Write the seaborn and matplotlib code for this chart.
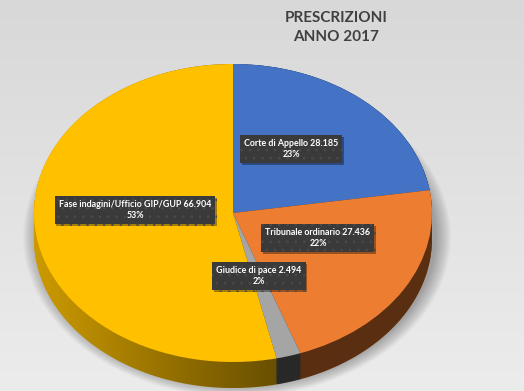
import numpy as np
import matplotlib
matplotlib.use("Agg")
import matplotlib.pyplot as plt
from matplotlib.patches import Ellipse, Polygon
from matplotlib.colors import LinearSegmentedColormap
import matplotlib.patheffects as pe
import seaborn as sns

sns.set_theme(style="white")
plt.rcParams['font.family'] = ['Lato', 'DejaVu Sans']
plt.rcParams['hatch.linewidth'] = 0.6

# ---- data ----
categories = ["Corte di Appello", "Tribunale ordinario", "Giudice di pace",
              "Fase indagini/Ufficio GIP/GUP"]
value_labels = ["28.185", "27.436", "2.494", "66.904"]
values = [28.185, 27.436, 2.494, 66.904]
percent_labels = ["23%", "22%", "2%", "53%"]
title_text = "PRESCRIZIONI\nANNO 2017"

top_colors = ["#4472C4", "#ED7D31", "#A5A5A5", "#FFC000"]
side_colors = ["#2E5290", "#B45F22", "#505050", "#CC9A00"]

W, H = 524, 391
fig = plt.figure(figsize=(W / 100, H / 100), dpi=100)
ax = fig.add_axes([0, 0, 1, 1])

# pixel -> data mapping: x = (px-cx)/rx ; y = (cy-py)/ry
cx, cy, rx, ry = 233.0, 213.0, 199.0, 149.0
xlim = (-cx / rx, (W - cx) / rx)
ylim = ((cy - H) / ry, cy / ry)
depth = 26.0 / ry

# background gradient
grad = np.linspace(0, 1, 256).reshape(-1, 1)
bgcmap = LinearSegmentedColormap.from_list("bg", ["#ececec", "#d8d8d8"])
ax.imshow(grad, cmap=bgcmap, aspect="auto",
          extent=(xlim[0], xlim[1], ylim[1], ylim[0]), zorder=-10)

# soft shadow
for i in range(16):
    s = 1.0 + 0.005 * i
    ax.add_patch(Ellipse((0.02, -0.16), 2 * s, 2 * s,
                         facecolor="black", edgecolor="none", alpha=0.02,
                         zorder=-5))

# side (extruded) layers
for k in np.linspace(depth, 0.0, 32):
    ax.pie(values, colors=side_colors, startangle=90, counterclock=False,
           center=(0, -k), radius=1.0, wedgeprops=dict(linewidth=0))

# shading on the side
t = np.linspace(0, np.pi, 200)
upper = np.column_stack([np.cos(t), np.sin(t)])
lower = np.column_stack([np.cos(t + np.pi), np.sin(t + np.pi) - depth])
side_poly = Polygon(np.vstack([upper, lower]), closed=True,
                    transform=ax.transData, facecolor="none", edgecolor="none")
ax.add_patch(side_poly)
xs = np.linspace(-1, 1, 300)
alpha_row = np.clip((xs + 1.0) / 1.25, 0, 1) * 0.5
shade = np.zeros((2, 300, 4))
shade[..., 3] = alpha_row
im = ax.imshow(shade, extent=(-1, 1, -1 - depth, 1), aspect="auto", zorder=2)
im.set_clip_path(side_poly)

# top face
wedges, _ = ax.pie(values, colors=top_colors, startangle=90, counterclock=False,
                   center=(0, 0), radius=1.0, wedgeprops=dict(linewidth=0))
for w in wedges:
    w.set_zorder(3)

ax.set_aspect("auto")
ax.set_xlim(*xlim)
ax.set_ylim(*ylim)
ax.axis("off")

# labels
label_px = [(291, 149), (318, 238), (259, 276), (135, 210)]
for cat, vl, pl, (px, py) in zip(categories, value_labels, percent_labels, label_px):
    x = (px - cx) / rx
    y = (cy - py) / ry
    txt = ax.text(x, y, f"{cat} {vl}\n{pl}", ha="center", va="center",
                  multialignment="center", fontsize=6.4, fontweight="bold",
                  color="white", zorder=5, linespacing=1.25,
                  bbox=dict(boxstyle="square,pad=0.45", facecolor="#3a3a3a",
                            edgecolor="#4a4a4a", linewidth=0, hatch=".."))
    txt.get_bbox_patch().set_path_effects(
        [pe.SimplePatchShadow(offset=(1.2, -1.2), shadow_rgbFace="black", alpha=0.35),
         pe.Normal()])

fig.text(336 / W, 1 - 11 / H, title_text, ha="center", va="top",
         fontsize=11, fontweight="bold", color="#404040", linespacing=1.45)

fig.savefig("out.png", dpi=100)
